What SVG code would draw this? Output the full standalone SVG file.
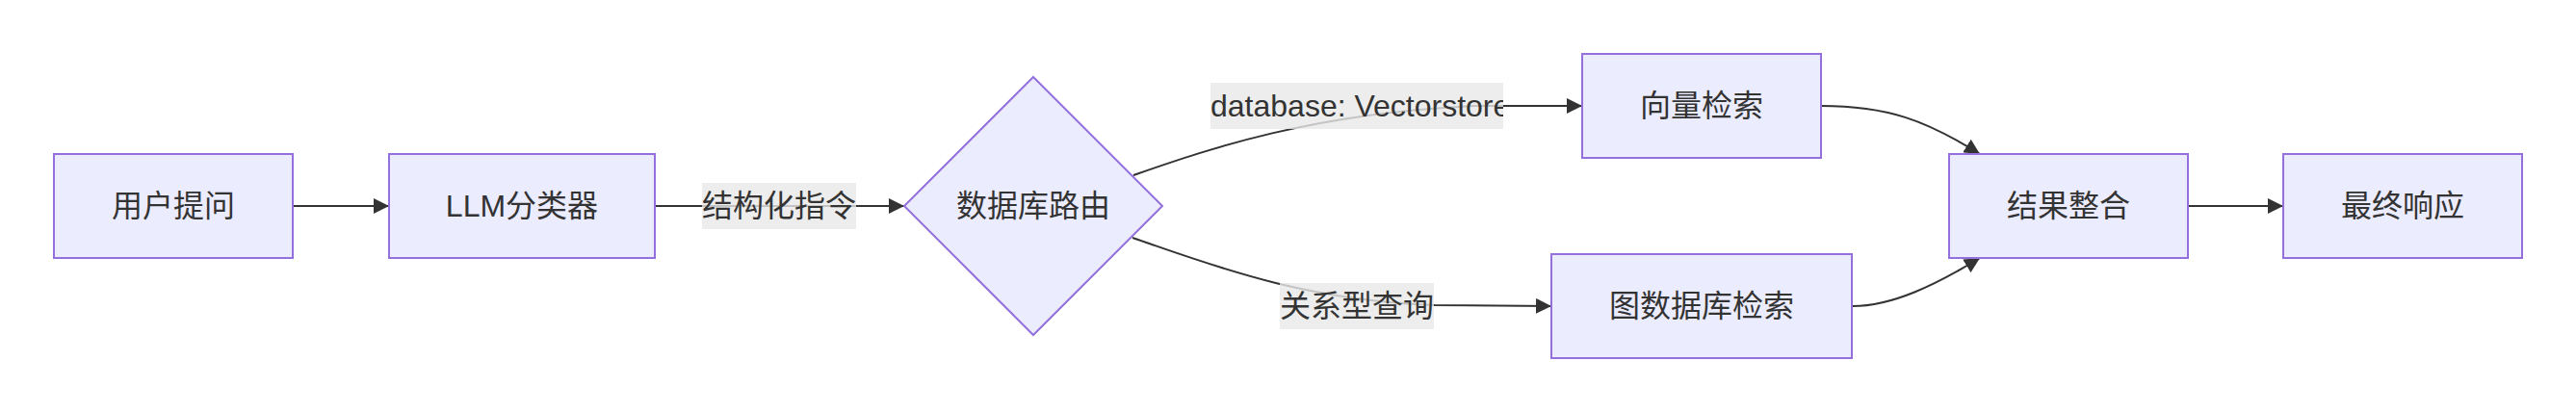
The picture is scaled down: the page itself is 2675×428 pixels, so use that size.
<svg xmlns="http://www.w3.org/2000/svg" width="2675" height="428" viewBox="0 0 2675 428">
<style>
.node rect,.node polygon{fill:#ECECFF;stroke:#9370DB;stroke-width:2}
.edge{fill:none;stroke:#333;stroke-width:2;marker-end:url(#arr)}
.lbg{fill:#e8e8e8;fill-opacity:0.8}
text{font-family:"Liberation Sans","Noto Sans CJK SC",sans-serif;font-size:32px;fill:#333}
.c{text-anchor:middle}
</style>
<defs>
<marker id="arr" viewBox="0 0 10 10" refX="10" refY="5" markerWidth="16" markerHeight="16" markerUnits="userSpaceOnUse" orient="auto">
<path d="M0,0 L10,5 L0,10 z" fill="#333"/>
</marker>
<clipPath id="clipDb"><rect x="1257" y="86" width="304" height="48"/></clipPath>
</defs>
<g id="connectors">
<path class="edge" d="M304,214 L404,214"/>
<path class="edge" d="M680,214 L939,214"/>
<path class="edge" d="M1177,182 C1255,155 1360,118 1530,110 L1643,110"/>
<path class="edge" d="M1176,247 C1255,274 1350,312 1490,317 L1611,318"/>
<path class="edge" d="M1891,110 C1960,110 2000,125 2056,160"/>
<path class="edge" d="M1924,318 C1965,318 2010,296 2056,268"/>
<path class="edge" d="M2272,214 L2371,214"/>
</g>
<g id="edge-labels">
<g id="label-structured">
<rect class="lbg" x="729" y="190" width="160" height="48"/>
<text class="c" x="809" y="225">结构化指令</text>
</g>
<g id="label-vector">
<rect class="lbg" x="1257" y="86" width="304" height="48"/>
<text x="1257" y="121" clip-path="url(#clipDb)">database: Vectorstore</text>
</g>
<g id="label-relational">
<rect class="lbg" x="1329" y="294" width="160" height="48"/>
<text class="c" x="1409" y="329">关系型查询</text>
</g>
</g>
<g id="node-user" class="node">
<rect x="56" y="160" width="248" height="108"/>
<text class="c" x="180" y="225">用户提问</text>
</g>
<g id="node-llm" class="node">
<rect x="404" y="160" width="276" height="108"/>
<text class="c" x="542" y="225">LLM分类器</text>
</g>
<g id="node-router" class="node">
<polygon points="1073,80 1207,214 1073,348 939,214"/>
<text class="c" x="1073" y="225">数据库路由</text>
</g>
<g id="node-vector" class="node">
<rect x="1643" y="56" width="248" height="108"/>
<text class="c" x="1767" y="121">向量检索</text>
</g>
<g id="node-graph" class="node">
<rect x="1611" y="264" width="312" height="108"/>
<text class="c" x="1767" y="329">图数据库检索</text>
</g>
<g id="node-merge" class="node">
<rect x="2024" y="160" width="248" height="108"/>
<text class="c" x="2148" y="225">结果整合</text>
</g>
<g id="node-final" class="node">
<rect x="2371" y="160" width="248" height="108"/>
<text class="c" x="2495" y="225">最终响应</text>
</g>
</svg>
